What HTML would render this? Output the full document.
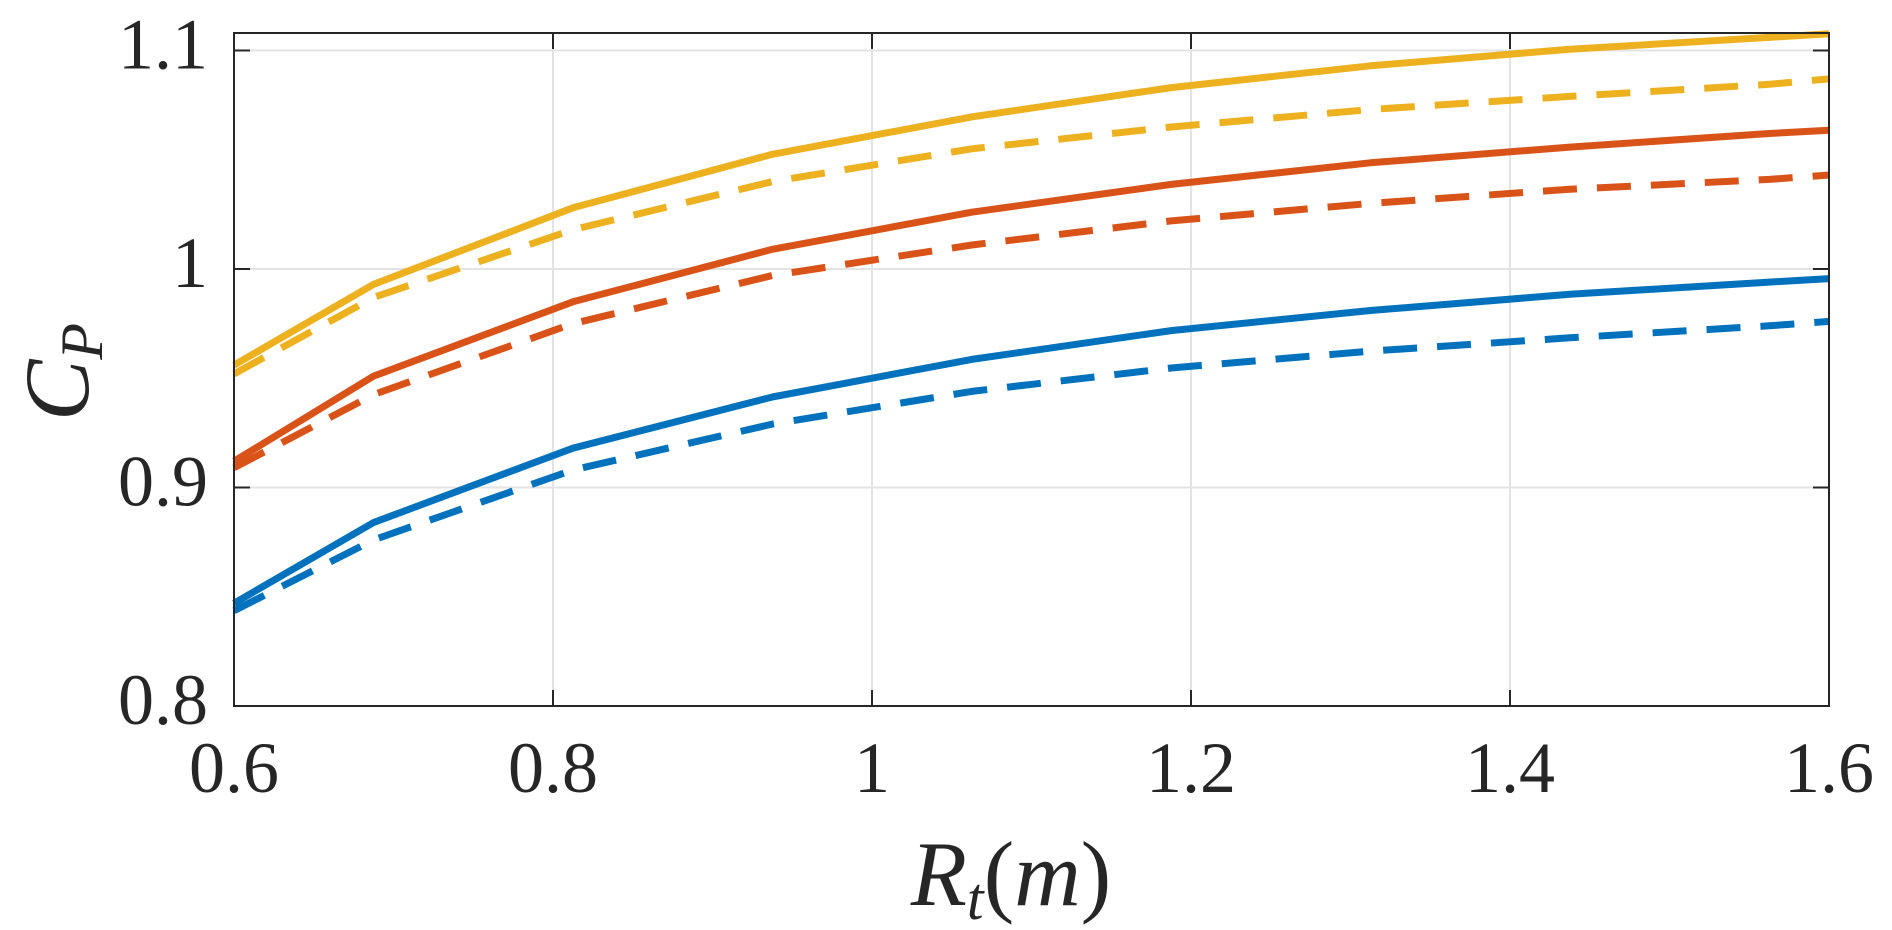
<!DOCTYPE html>
<html><head><meta charset="utf-8"><style>
html,body{margin:0;padding:0;background:#fff;}
svg{display:block;font-family:"Liberation Serif",serif;}
</style></head><body>
<svg id="chart" width="1892" height="930" viewBox="0 0 1892 930" xmlns="http://www.w3.org/2000/svg">
<rect x="0" y="0" width="1892" height="930" fill="#fff"/>
<g id="grid"></g>
<g id="series"></g>
<g id="axes"></g>
<text x="1011" y="905" font-size="92" font-style="italic" fill="#262626" text-anchor="middle">R<tspan font-size="60" dy="14">t</tspan><tspan font-style="normal" dy="-14">(</tspan>m<tspan font-style="normal">)</tspan></text>
<text transform="translate(88,372) rotate(-90)" font-size="92" font-style="italic" fill="#262626" text-anchor="middle">C<tspan font-size="60" dy="14">P</tspan></text>
</svg>
<script>
const xValues = [0.6, 0.6875, 0.8125, 0.9375, 1.0625, 1.1875, 1.3125, 1.4375, 1.5625, 1.6];
const yellowSolid = [0.956, 0.993, 1.028, 1.0525, 1.0696, 1.083, 1.093, 1.1006, 1.106, 1.1077];
const yellowDashed = [0.952, 0.987, 1.018, 1.040, 1.055, 1.065, 1.073, 1.079, 1.0845, 1.087];
const redSolid = [0.912, 0.951, 0.985, 1.009, 1.026, 1.0387, 1.0486, 1.0558, 1.062, 1.0635];
const redDashed = [0.909, 0.9425, 0.975, 0.997, 1.011, 1.022, 1.030, 1.0365, 1.041, 1.043];
const blueSolid = [0.847, 0.884, 0.918, 0.9414, 0.9586, 0.9718, 0.981, 0.9884, 0.994, 0.9956];
const blueDashed = [0.8436, 0.876, 0.908, 0.929, 0.944, 0.9547, 0.9624, 0.9685, 0.974, 0.976];
const xTicks = [0.6, 0.8, 1.0, 1.2, 1.4, 1.6];
const xTickLabels = ["0.6", "0.8", "1", "1.2", "1.4", "1.6"];
const yTicks = [0.8, 0.9, 1.0, 1.1];
const yTickLabels = ["0.8", "0.9", "1", "1.1"];

const NS = "http://www.w3.org/2000/svg";
const L = 234, R = 1829, B = 706, T = 33;
const xMin = 0.6, xMax = 1.6, yMin = 0.8, yMax = 1.108;
function sx(v){ return L + (v - xMin) / (xMax - xMin) * (R - L); }
function sy(v){ return B - (v - yMin) / (yMax - yMin) * (B - T); }
function mk(tag, attrs, parent){
  const e = document.createElementNS(NS, tag);
  for (const k in attrs) e.setAttribute(k, attrs[k]);
  parent.appendChild(e);
  return e;
}
const grid = document.getElementById('grid');
const axes = document.getElementById('axes');
const series = document.getElementById('series');

xTicks.forEach((t, i) => {
  const x = sx(t);
  const g = mk('line', {x1:x, x2:x, y1:T, y2:B, stroke:'#e3e3e3', 'stroke-width':2}, grid);
  
  
  const tk1 = mk('line', {x1:x, x2:x, y1:B, y2:B-16, stroke:'#262626', 'stroke-width':2}, axes);
  
  
  const tk2 = mk('line', {x1:x, x2:x, y1:T, y2:T+16, stroke:'#262626', 'stroke-width':2}, axes);
  
  
  const lb = mk('text', {x:x, y:792, 'font-size':72, fill:'#262626', 'text-anchor':'middle'}, axes);
  lb.textContent = xTickLabels[i];
  
  
});
yTicks.forEach((t, i) => {
  const y = sy(t);
  const g = mk('line', {x1:L, x2:R, y1:y, y2:y, stroke:'#e3e3e3', 'stroke-width':2}, grid);
  
  
  const tk1 = mk('line', {x1:L, x2:L+16, y1:y, y2:y, stroke:'#262626', 'stroke-width':2}, axes);
  
  
  const tk2 = mk('line', {x1:R, x2:R-16, y1:y, y2:y, stroke:'#262626', 'stroke-width':2}, axes);
  
  
  const lb = mk('text', {x:208, y:y+18, 'font-size':72, fill:'#262626', 'text-anchor':'end'}, axes);
  lb.textContent = yTickLabels[i];
  
  
});
const box = mk('rect', {x:L, y:T, width:R-L, height:B-T, fill:'none', stroke:'#262626', 'stroke-width':2}, axes);



const defs = [
  [yellowSolid, '#EDB120', false, 'yellow-solid-line'],
  [yellowDashed, '#EDB120', true, 'yellow-dashed-line'],
  [redSolid, '#D95319', false, 'red-solid-line'],
  [redDashed, '#D95319', true, 'red-dashed-line'],
  [blueSolid, '#0072BD', false, 'blue-solid-line'],
  [blueDashed, '#0072BD', true, 'blue-dashed-line']
];
defs.forEach(d => {
  const pts = xValues.map((x, i) => sx(x).toFixed(1) + ',' + sy(d[0][i]).toFixed(1)).join(' ');
  const attrs = {points:pts, fill:'none', stroke:d[1], 'stroke-width':7, 'stroke-linejoin':'round'};
  if (d[2]) attrs['stroke-dasharray'] = '34 20';
  const p = mk('polyline', attrs, series);
  
  
});
</script>
</body></html>
